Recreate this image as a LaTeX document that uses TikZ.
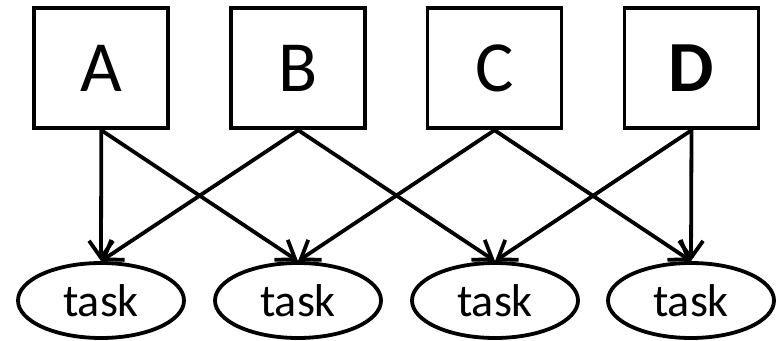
\documentclass[tikz,border=0pt]{standalone}
\usepackage{fontspec}
\setmainfont{Carlito}
\usetikzlibrary{arrows.meta,shapes.geometric}
\begin{document}
\begin{tikzpicture}[x=1pt,y=1pt,
  topbox/.style={draw,line width=3.8pt,minimum width=134pt,minimum height=120pt,inner sep=0pt,font=\fontsize{72}{86}\selectfont},
  taskell/.style={draw,ellipse,line width=3.8pt,minimum width=166pt,minimum height=75pt,inner sep=0pt,font=\fontsize{46}{55}\selectfont},
  link/.style={line width=3.8pt,-{Straight Barb[length=17pt,width=24pt]}}]
\useasboundingbox (0,0) rectangle (778,340);
\node[topbox] (A) at (101.3,271.7) {A};
\node[topbox] (B) at (298.3,271.7) {B};
\node[topbox] (C) at (494.5,271.7) {C};
\node[topbox] (D) at (691.5,271.7) {\bfseries D};
\node[taskell] (t1) at (101,39.5) {task};
\node[taskell] (t2) at (298,39.5) {task};
\node[taskell] (t3) at (495,39.5) {task};
\node[taskell] (t4) at (691,39.5) {task};
\draw[link] (A.south) -- (t1.north);
\draw[link] (A.south) -- (t2.north);
\draw[link] (B.south) -- (t1.north);
\draw[link] (B.south) -- (t3.north);
\draw[link] (C.south) -- (t2.north);
\draw[link] (C.south) -- (t4.north);
\draw[link] (D.south) -- (t3.north);
\draw[link] (D.south) -- (t4.north);
\end{tikzpicture}
\end{document}
